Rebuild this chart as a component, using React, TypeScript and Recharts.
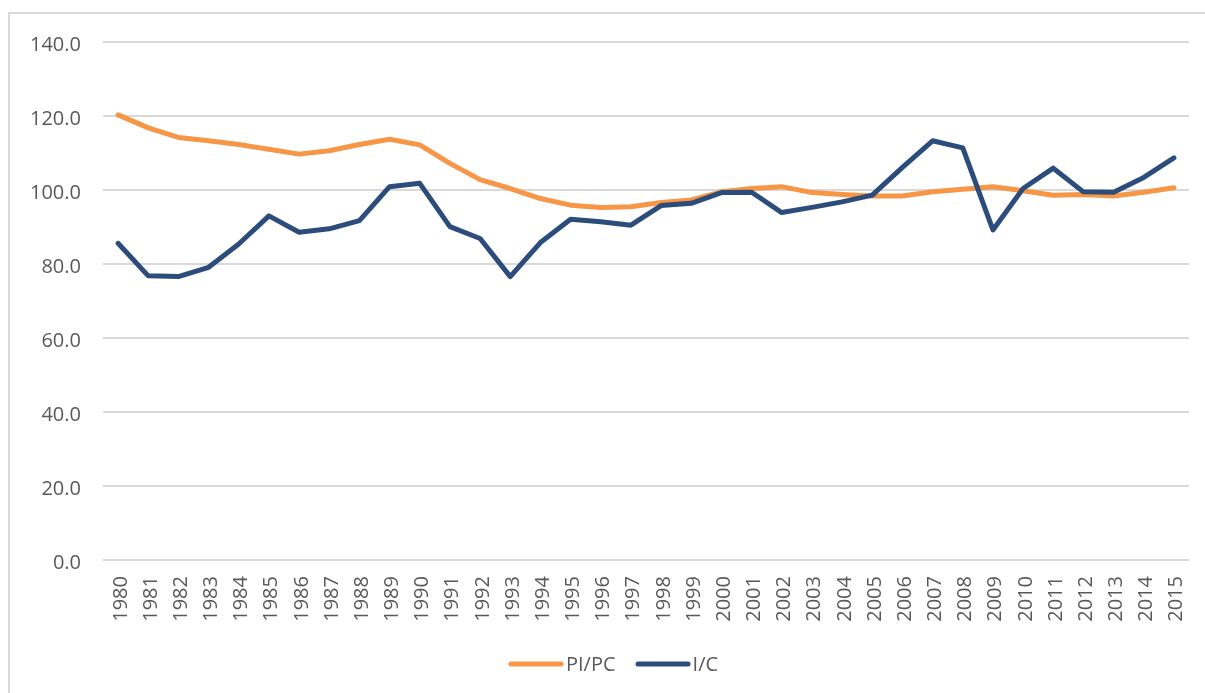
import React from "react";
import { LineChart, Line, XAxis, YAxis, CartesianGrid, Legend } from "recharts";

const years = [
  "1980","1981","1982","1983","1984","1985","1986","1987","1988","1989",
  "1990","1991","1992","1993","1994","1995","1996","1997","1998","1999",
  "2000","2001","2002","2003","2004","2005","2006","2007","2008","2009",
  "2010","2011","2012","2013","2014","2015",
];

const piPc = [
  120.3, 116.8, 114.2, 113.3, 112.3, 111.0, 109.7, 110.6, 112.3, 113.7,
  112.2, 107.2, 102.8, 100.4, 97.7, 95.9, 95.3, 95.5, 96.6, 97.3,
  99.5, 100.4, 100.9, 99.3, 98.8, 98.4, 98.4, 99.5, 100.2, 100.9,
  99.8, 98.6, 98.8, 98.4, 99.4, 100.6,
];

const iC = [
  85.6, 76.8, 76.6, 79.1, 85.4, 93.0, 88.6, 89.5, 91.7, 100.9,
  101.8, 90.1, 86.9, 76.6, 85.8, 92.1, 91.4, 90.5, 95.8, 96.4,
  99.3, 99.4, 93.9, 95.3, 96.8, 98.6, 106.1, 113.3, 111.4, 89.2,
  100.4, 105.9, 99.5, 99.4, 103.4, 108.7,
];

const yTicks = [0, 20, 40, 60, 80, 100, 120, 140];

const seriesNames = ["PI/PC", "I/C"];
const seriesColors = ["#F79646", "#2C4D7C"];

const data = years.map((y, i) => ({ year: y, a: piPc[i], b: iC[i] }));

const FONT = "'Open Sans', sans-serif";
const TEXT = "#595959";

const XTick = (props: any) => {
  const { x, y, payload } = props;
  return (
    <text
      x={x}
      y={y}
      dy={8.5}
      transform={`rotate(-90, ${x}, ${y})`}
      textAnchor="end"
      fill={TEXT}
      fontSize={20}
      fontFamily={FONT}
    >
      {payload.value}
    </text>
  );
};

const YTick = (props: any) => {
  const { x, y, payload } = props;
  return (
    <text
      x={x}
      y={y}
      dy={8.8}
      textAnchor="end"
      fill={TEXT}
      fontSize={20}
      fontFamily={FONT}
    >
      {Number(payload.value).toFixed(1)}
    </text>
  );
};

const LegendContent = () => (
  <div
    style={{
      display: "flex",
      justifyContent: "flex-start",
      alignItems: "center",
      paddingLeft: 508,
      fontFamily: FONT,
      fontSize: 20,
      color: TEXT,
      lineHeight: "28px",
    }}
  >
    {seriesNames.map((n, i) => (
      <div key={n} style={{ display: "flex", alignItems: "center", marginRight: i === 0 ? 19 : 0 }}>
        <svg width={56} height={10} style={{ display: "block" }}>
          <line x1={3} y1={5} x2={53} y2={5} stroke={seriesColors[i]} strokeWidth={5} strokeLinecap="round" />
        </svg>
        <span style={{ marginLeft: 2 }}>{n}</span>
      </div>
    ))}
  </div>
);

export default function App() {
  return (
    <>
      <div
        style={{
          position: "fixed",
          left: 8,
          top: 12,
          width: 1400,
          height: 900,
          border: "2px solid #d9d9d9",
          boxSizing: "border-box",
        }}
      />
      <div style={{ position: "fixed", left: 0, top: 0, width: 1205, height: 693 }}>
        <LineChart
          width={1205}
          height={693}
          data={data}
          margin={{ top: 42, right: 16, bottom: 53, left: 0 }}
        >
          <CartesianGrid vertical={false} stroke="#d9d9d9" strokeWidth={2} />
          <XAxis
            dataKey="year"
            height={80}
            interval={0}
            axisLine={false}
            tickLine={false}
            tickSize={0}
            tickMargin={16}
            padding={{ left: 15.08, right: 15.08 }}
            tick={<XTick />}
          />
          <YAxis
            width={103}
            domain={[0, 140]}
            ticks={yTicks}
            interval={0}
            axisLine={false}
            tickLine={false}
            tickSize={0}
            tickMargin={22}
            tick={<YTick />}
          />
          <Legend
            layout="horizontal"
            verticalAlign="middle"
            align="center"
            wrapperStyle={{ left: 0, top: 650, width: 1205 }}
            content={<LegendContent />}
          />
          <Line
            type="linear"
            dataKey="a"
            name={seriesNames[0]}
            stroke={seriesColors[0]}
            strokeWidth={5}
            dot={false}
            activeDot={false}
            strokeLinejoin="round"
            strokeLinecap="round"
            isAnimationActive={false}
          />
          <Line
            type="linear"
            dataKey="b"
            name={seriesNames[1]}
            stroke={seriesColors[1]}
            strokeWidth={5}
            dot={false}
            activeDot={false}
            strokeLinejoin="round"
            strokeLinecap="round"
            isAnimationActive={false}
          />
        </LineChart>
      </div>
    </>
  );
}
